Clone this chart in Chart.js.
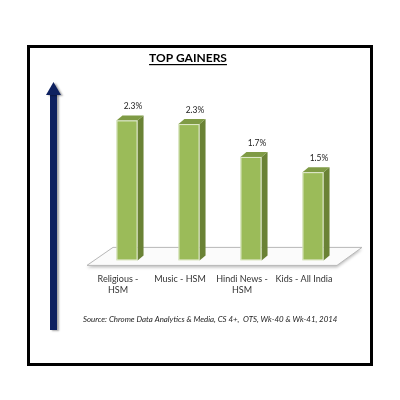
<!DOCTYPE html>
<html>
<head>
<meta charset="utf-8">
<script src="https://cdn.jsdelivr.net/npm/chart.js@4.4.1/dist/chart.umd.min.js"></script>
<style>
  html, body { margin: 0; padding: 0; background: #fff; }
  #chart { display: block; }
</style>
</head>
<body>
<canvas id="chart" width="400" height="400"></canvas>
<script>
// 데이터
const categories = [['Religious -', 'HSM'], 'Music - HSM', ['Hindi News -', 'HSM'], 'Kids - All India'];
const gains = [2.3, 2.24, 1.7, 1.45];
const gainLabels = ['2.3%', '2.3%', '1.7%', '1.5%'];
const titleText = 'TOP GAINERS';
const sourceText = 'Source: Chrome Data Analytics & Media, CS 4+,  OTS, Wk-40 & Wk-41, 2014';

const colors = {
    front: '#9bbb59',
    side: '#6a8235',
    top: '#7f9b45',
    arrow: '#0e2160',
    text: '#222222'
};

const DEPTH_X = 6;
const DEPTH_Y = 5;

// 프레임, 화살표, 제목, 출처
const framePlugin = {
    id: 'frame',
    beforeDraw(chart) {
        const ctx = chart.ctx;
        ctx.save();
        ctx.fillStyle = '#fff';
        ctx.fillRect(0, 0, chart.width, chart.height);

        ctx.strokeStyle = '#000';
        ctx.lineWidth = 3;
        ctx.strokeRect(28.5, 46.5, 343, 318);

        // 화살표
        ctx.shadowColor = 'rgba(0,0,0,0.35)';
        ctx.shadowOffsetX = 2;
        ctx.shadowOffsetY = 1;
        ctx.shadowBlur = 2;
        ctx.fillStyle = colors.arrow;
        ctx.fillRect(50, 94, 7, 236);
        ctx.beginPath();
        ctx.moveTo(53.5, 82);
        ctx.lineTo(61, 95);
        ctx.lineTo(46, 95);
        ctx.closePath();
        ctx.fill();
        ctx.restore();

        ctx.save();
        ctx.fillStyle = '#000';
        ctx.font = 'bold 12px Lato, "Liberation Sans", sans-serif';
        ctx.textAlign = 'center';
        ctx.textBaseline = 'middle';
        ctx.fillText(titleText, 188, 58);
        const w = ctx.measureText(titleText).width;
        ctx.fillRect(188 - w / 2, 64, w, 1.2);

        ctx.fillStyle = colors.text;
        ctx.font = 'italic 7.9px Lato, "Liberation Sans", sans-serif';
        ctx.textAlign = 'left';
        ctx.fillText(sourceText, 83, 319);
        ctx.restore();
    },
    beforeDatasetsDraw(chart) {
        // 바닥면
        const ctx = chart.ctx;
        const y0 = chart.scales.y.getPixelForValue(0);
        const area = chart.chartArea;
        ctx.save();
        ctx.shadowColor = 'rgba(0,0,0,0.25)';
        ctx.shadowBlur = 3;
        ctx.shadowOffsetY = 2;
        ctx.fillStyle = '#fbfbfb';
        ctx.strokeStyle = '#b8b8b8';
        ctx.lineWidth = 1;
        ctx.beginPath();
        ctx.moveTo(area.left - 9, y0 + 5);
        ctx.lineTo(area.left + 17, y0 - 13);
        ctx.lineTo(area.right + 18, y0 - 13);
        ctx.lineTo(area.right - 7, y0 + 5);
        ctx.closePath();
        ctx.fill();
        ctx.shadowColor = 'transparent';
        ctx.stroke();
        ctx.restore();
    },
    afterDatasetsDraw(chart) {
        const ctx = chart.ctx;
        const meta = chart.getDatasetMeta(0);
        ctx.save();
        meta.data.forEach((bar, i) => {
            const half = bar.width / 2;
            const l = bar.x - half, r = bar.x + half;
            const t = bar.y, b = bar.base;

            ctx.fillStyle = colors.side;
            ctx.beginPath();
            ctx.moveTo(r, t);
            ctx.lineTo(r + DEPTH_X, t - DEPTH_Y);
            ctx.lineTo(r + DEPTH_X, b - DEPTH_Y);
            ctx.lineTo(r, b);
            ctx.closePath();
            ctx.fill();

            ctx.fillStyle = colors.top;
            ctx.beginPath();
            ctx.moveTo(l, t);
            ctx.lineTo(l + DEPTH_X, t - DEPTH_Y);
            ctx.lineTo(r + DEPTH_X, t - DEPTH_Y);
            ctx.lineTo(r, t);
            ctx.closePath();
            ctx.fill();

            ctx.strokeStyle = 'rgba(255,255,255,0.7)';
            ctx.lineWidth = 1;
            ctx.strokeRect(l + 0.5, t + 0.5, bar.width - 1, b - t - 1);

            ctx.fillStyle = colors.text;
            ctx.font = '8.5px Lato, "Liberation Sans", sans-serif';
            ctx.textAlign = 'center';
            ctx.textBaseline = 'middle';
            ctx.fillText(gainLabels[i], bar.x + 6, t - 14);
        });
        ctx.restore();
    }
};

new Chart(document.getElementById('chart'), {
    type: 'bar',
    data: {
        labels: categories,
        datasets: [{
            data: gains,
            backgroundColor: colors.front,
            borderWidth: 0,
            barPercentage: 0.68,
            categoryPercentage: 0.5
        }]
    },
    options: {
        responsive: false,
        animation: false,
        layout: { padding: { left: 96, right: 56, top: 90, bottom: 92 } },
        plugins: {
            legend: { display: false },
            tooltip: { enabled: false }
        },
        scales: {
            x: {
                grid: { display: false, drawTicks: false },
                border: { display: false },
                ticks: {
                    color: '#333',
                    font: { family: 'Lato, "Liberation Sans", sans-serif', size: 9, lineHeight: 1.2 },
                    padding: 13,
                    labelOffset: -9,
                    maxRotation: 0,
                    autoSkip: false
                }
            },
            y: {
                display: false,
                min: 0,
                max: 2.8
            }
        }
    },
    plugins: [framePlugin]
});
</script>
</body>
</html>
